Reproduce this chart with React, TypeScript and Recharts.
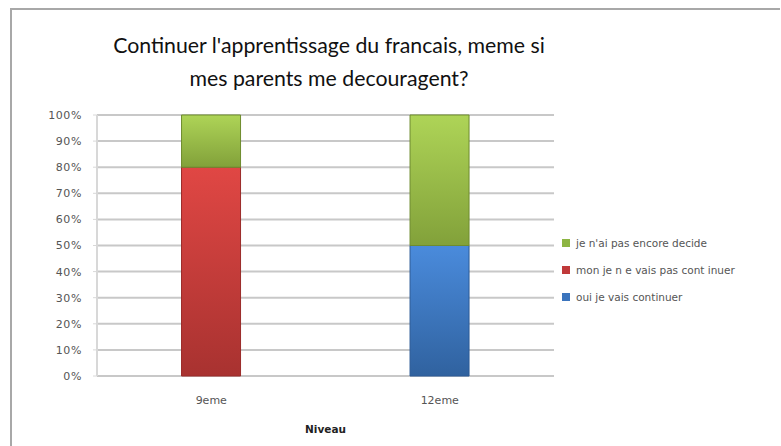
import { Bar, BarChart, CartesianGrid, XAxis, YAxis } from "recharts";

const niveaux = ["9eme", "12eme"];
const ouiContinuer = [0, 50];
const nonContinuer = [80, 0];
const pasDecide = [20, 50];
const yTicks = [0, 10, 20, 30, 40, 50, 60, 70, 80, 90, 100];

const data = niveaux.map((niveau, i) => ({
  niveau,
  oui: ouiContinuer[i],
  non: nonContinuer[i],
  pas: pasDecide[i],
}));

const series = [
  { key: "pas", label: "je n'ai pas encore decide", fill: "url(#gGreen)", stroke: "#6e8c2e", swatch: "#8db543" },
  { key: "non", label: "mon je n e vais pas cont inuer", fill: "url(#gRed)", stroke: "#9a2b29", swatch: "#c0393a" },
  { key: "oui", label: "oui je vais continuer", fill: "url(#gBlue)", stroke: "#2c5a96", swatch: "#3b74bd" },
];

const font = "'DejaVu Sans', sans-serif";

const LegendBox = () => (
  <div style={{ fontFamily: font, fontSize: 10.5, color: "#555" }}>
    {series.map((s) => (
      <div key={s.key} style={{ display: "flex", alignItems: "center", height: 27 }}>
        <span
          style={{
            width: 8,
            height: 8,
            background: s.swatch,
            marginRight: 6,
            display: "inline-block",
          }}
        />
        {s.label}
      </div>
    ))}
  </div>
);

const App = () => {
  return (
    <div
      style={{
        position: "fixed",
        left: 0,
        top: 0,
        width: 781,
        height: 446,
        background: "#fff",
        overflow: "hidden",
      }}
    >
      <div
        style={{
          position: "absolute",
          left: 10,
          top: 8,
          width: 768,
          height: 460,
          borderTop: "2px solid #a8a8a8",
          borderLeft: "2px solid #a8a8a8",
        }}
      />
      <div
        style={{
          position: "absolute",
          left: 0,
          width: 658,
          top: 29,
          textAlign: "center",
          fontFamily: "Lato, sans-serif",
          fontWeight: 400,
          fontSize: 21.3,
          lineHeight: "33px",
          color: "#111",
        }}
      >
        Continuer l'apprentissage du francais, meme si
        <br />
        mes parents me decouragent?
      </div>
      <div style={{ position: "absolute", left: 0, top: 0 }}>
        <BarChart
          width={781}
          height={446}
          data={data}
          margin={{ top: 115, right: 227, left: 37, bottom: 40 }}
          barCategoryGap="37%"
        >
          <defs>
            <linearGradient id="gRed" x1="0" y1="0" x2="0" y2="1">
              <stop offset="0" stopColor="#e04744" />
              <stop offset="1" stopColor="#a83230" />
            </linearGradient>
            <linearGradient id="gGreen" x1="0" y1="0" x2="0" y2="1">
              <stop offset="0" stopColor="#aed457" />
              <stop offset="1" stopColor="#82a13a" />
            </linearGradient>
            <linearGradient id="gBlue" x1="0" y1="0" x2="0" y2="1">
              <stop offset="0" stopColor="#4a8bdc" />
              <stop offset="1" stopColor="#30629f" />
            </linearGradient>
          </defs>
          <CartesianGrid vertical={false} stroke="#c8c8c8" strokeWidth={2} />
          <XAxis
            dataKey="niveau"
            axisLine={false}
            tickLine={false}
            tick={{ fontFamily: font, fontSize: 11, fill: "#555" }}
            tickMargin={14}
            height={30}
            label={{
              value: "Niveau",
              position: "insideBottom",
              offset: -27,
              style: { fontFamily: font, fontSize: 10.5, fontWeight: 700, fill: "#222" },
            }}
          />
          <YAxis
            domain={[0, 100]}
            ticks={yTicks}
            tickFormatter={(v) => `${v}%`}
            width={60}
            axisLine={{ stroke: "#d8d8d8", strokeWidth: 2 }}
            tickLine={{ stroke: "#d8d8d8" }}
            tickSize={4}
            tickMargin={11}
            tick={{ fontFamily: font, fontSize: 11, fill: "#555", letterSpacing: 0.6 }}
            interval={0}
          />
          {[...series].reverse().map((s) => (
            <Bar
              key={s.key}
              dataKey={s.key}
              stackId="a"
              fill={s.fill}
              stroke={s.stroke}
              strokeWidth={1}
              isAnimationActive={false}
            />
          ))}
        </BarChart>
      </div>
      <div style={{ position: "absolute", left: 562, top: 229 }}>
        <LegendBox />
      </div>
    </div>
  );
};

export default App;
